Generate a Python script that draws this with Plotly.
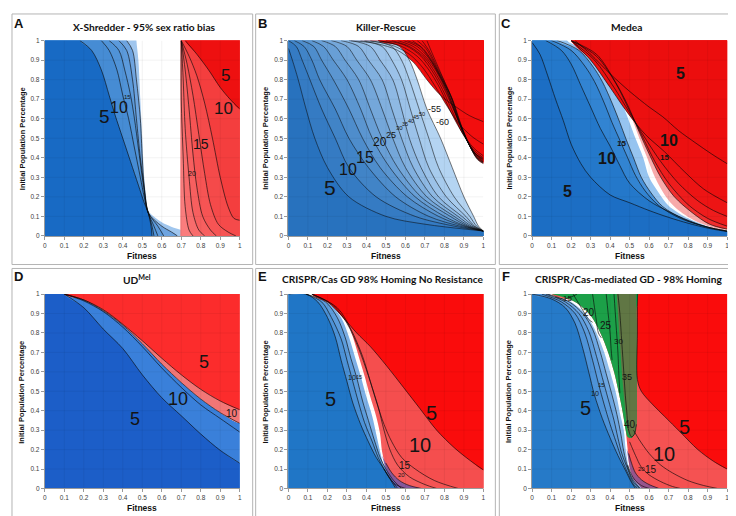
import plotly.graph_objects as go

W, H = 736, 516

# ---------------- contour lines ----------------
# every line is (x list, y list) in (fitness, initial population fraction)

# A - X-Shredder
A_BLUE_EDGE = ([0.47, 0.48, 0.49, 0.50, 0.51, 0.52, 0.53, 0.60, 0.70, 0.80, 0.83],
               [1.0, 0.90, 0.70, 0.50, 0.30, 0.20, 0.13, 0.07, 0.03, 0.01, 0.0])
A_BLUE = [  # outermost -> innermost
    ([0.42, 0.45, 0.47, 0.49, 0.50, 0.51, 0.53, 0.60, 0.65, 0.68], [1.0, 0.95, 0.80, 0.60, 0.40, 0.25, 0.12, 0.05, 0.02, 0.0]),
    ([0.38, 0.42, 0.45, 0.47, 0.49, 0.51, 0.53, 0.58, 0.61], [1.0, 0.95, 0.80, 0.60, 0.40, 0.25, 0.12, 0.05, 0.0]),
    ([0.33, 0.38, 0.41, 0.44, 0.46, 0.48, 0.50, 0.515, 0.53, 0.56, 0.58], [1.0, 0.95, 0.85, 0.72, 0.60, 0.45, 0.30, 0.20, 0.12, 0.05, 0.0]),
    ([0.29, 0.33, 0.37, 0.40, 0.43, 0.46, 0.49, 0.51, 0.53, 0.55, 0.56], [1.0, 0.95, 0.85, 0.72, 0.60, 0.45, 0.30, 0.20, 0.12, 0.05, 0.0]),
    ([0.18, 0.24, 0.29, 0.33, 0.36, 0.40, 0.44, 0.48, 0.51, 0.53, 0.545, 0.55], [1.0, 0.95, 0.85, 0.72, 0.62, 0.50, 0.38, 0.26, 0.17, 0.12, 0.05, 0.0]),
]
A_RED_EDGE = ([0.695, 0.695], [1.0, 0.0])
A_RED = [  # outermost -> innermost
    ([0.70, 0.70, 0.71, 0.72, 0.74, 0.76], [1.0, 0.70, 0.40, 0.15, 0.03, 0.0]),
    ([0.70, 0.71, 0.72, 0.74, 0.76, 0.79, 0.82], [1.0, 0.80, 0.55, 0.30, 0.12, 0.03, 0.0]),
    ([0.70, 0.72, 0.74, 0.76, 0.78, 0.81, 0.85, 0.88], [1.0, 0.85, 0.65, 0.42, 0.25, 0.10, 0.03, 0.0]),
    ([0.70, 0.73, 0.76, 0.79, 0.82, 0.85, 0.89, 0.94, 0.98], [1.0, 0.88, 0.72, 0.52, 0.32, 0.16, 0.06, 0.02, 0.0]),
    ([0.70, 0.74, 0.78, 0.82, 0.86, 0.90, 0.94, 0.97, 1.0], [1.0, 0.92, 0.82, 0.68, 0.50, 0.30, 0.15, 0.09, 0.08]),
    ([0.72, 0.78, 0.84, 0.90, 0.95, 1.0], [1.0, 0.93, 0.85, 0.76, 0.70, 0.65]),
]

# B - Killer-Rescue
B_Y = [1.0, 0.97, 0.9, 0.8, 0.65, 0.5, 0.35, 0.2, 0.1, 0.05, 0.025]
B_BLUE_X = [  # lines 60, 55, ... 10 (outer -> inner)
    [0.46, 0.57, 0.62, 0.66, 0.71, 0.78, 0.84, 0.90, 0.95, 0.975, 1.0],
    [0.42, 0.53, 0.58, 0.62, 0.67, 0.72, 0.77, 0.85, 0.93, 0.965, 1.0],
    [0.37, 0.48, 0.53, 0.58, 0.625, 0.67, 0.72, 0.81, 0.91, 0.955, 1.0],
    [0.32, 0.42, 0.47, 0.535, 0.58, 0.62, 0.68, 0.77, 0.89, 0.95, 1.0],
    [0.27, 0.36, 0.41, 0.48, 0.53, 0.58, 0.64, 0.74, 0.87, 0.94, 1.0],
    [0.22, 0.30, 0.35, 0.42, 0.48, 0.535, 0.60, 0.71, 0.85, 0.93, 1.0],
    [0.17, 0.24, 0.29, 0.36, 0.42, 0.48, 0.56, 0.68, 0.83, 0.92, 1.0],
    [0.12, 0.18, 0.23, 0.30, 0.37, 0.43, 0.52, 0.65, 0.80, 0.91, 1.0],
    [0.07, 0.13, 0.17, 0.23, 0.31, 0.38, 0.47, 0.61, 0.77, 0.90, 1.0],
    [0.03, 0.08, 0.12, 0.16, 0.24, 0.31, 0.41, 0.55, 0.72, 0.88, 1.0],
    [0.0, 0.04, 0.07, 0.11, 0.17, 0.24, 0.31, 0.45, 0.65, 0.85, 1.0],
]
B_BLUE_5 = ([0.0, 0.02, 0.05, 0.09, 0.135, 0.2, 0.31, 0.5, 0.7, 1.0],
            [0.96, 0.9, 0.8, 0.65, 0.5, 0.35, 0.2, 0.1, 0.06, 0.025])
B_RED = [  # lines 60 ... 5 (outer -> inner)
    ([0.71, 0.735, 0.77, 0.805, 0.845, 0.885, 0.935, 0.97, 1.0], [1.0, 0.94, 0.86, 0.78, 0.69, 0.57, 0.45, 0.39, 0.37]),
    ([0.685, 0.72, 0.76, 0.80, 0.84, 0.88, 0.93, 0.97, 1.0], [1.0, 0.95, 0.87, 0.79, 0.70, 0.58, 0.46, 0.395, 0.372]),
    ([0.66, 0.705, 0.75, 0.79, 0.835, 0.875, 0.925, 0.965, 1.0], [1.0, 0.96, 0.88, 0.80, 0.71, 0.59, 0.47, 0.40, 0.375]),
    ([0.635, 0.69, 0.74, 0.785, 0.83, 0.87, 0.92, 0.965, 1.0], [1.0, 0.96, 0.89, 0.81, 0.72, 0.60, 0.48, 0.405, 0.378]),
    ([0.61, 0.675, 0.73, 0.775, 0.82, 0.865, 0.915, 0.96, 1.0], [1.0, 0.97, 0.90, 0.82, 0.73, 0.61, 0.49, 0.415, 0.38]),
    ([0.59, 0.66, 0.72, 0.77, 0.815, 0.86, 0.91, 0.96, 1.0], [1.0, 0.97, 0.91, 0.83, 0.74, 0.62, 0.50, 0.42, 0.385]),
    ([0.56, 0.64, 0.71, 0.76, 0.81, 0.855, 0.905, 0.955, 1.0], [1.0, 0.97, 0.91, 0.84, 0.74, 0.63, 0.51, 0.425, 0.39]),
    ([0.53, 0.62, 0.70, 0.75, 0.80, 0.85, 0.90, 0.95, 1.0], [1.0, 0.97, 0.91, 0.84, 0.75, 0.64, 0.52, 0.43, 0.395]),
    ([0.50, 0.60, 0.68, 0.74, 0.79, 0.84, 0.89, 0.95, 1.0], [1.0, 0.975, 0.92, 0.84, 0.75, 0.64, 0.53, 0.44, 0.40]),
    ([0.46, 0.57, 0.66, 0.72, 0.78, 0.83, 0.89, 0.95, 1.0], [1.0, 0.975, 0.92, 0.85, 0.75, 0.64, 0.53, 0.45, 0.41]),
    ([0.39, 0.52, 0.62, 0.69, 0.75, 0.81, 0.87, 0.94, 1.0], [1.0, 0.98, 0.93, 0.86, 0.77, 0.67, 0.58, 0.51, 0.47]),
    ([0.31, 0.45, 0.56, 0.64, 0.71, 0.78, 0.86, 0.93, 1.0], [1.0, 0.985, 0.95, 0.89, 0.80, 0.72, 0.66, 0.615, 0.585]),
]

# C - Medea
C_BLUE_EDGE = ([0.18, 0.28, 0.35, 0.40, 0.46, 0.50, 0.53, 0.57, 0.60, 0.65, 0.70, 0.80, 0.90, 1.0],
               [1.0, 0.95, 0.87, 0.80, 0.68, 0.58, 0.50, 0.40, 0.30, 0.22, 0.155, 0.09, 0.05, 0.025])
C_BLUE = [
    ([0.13, 0.24, 0.31, 0.36, 0.41, 0.45, 0.48, 0.52, 0.56, 0.61, 0.67, 0.78, 0.90, 1.0],
     [1.0, 0.95, 0.87, 0.79, 0.68, 0.58, 0.50, 0.40, 0.30, 0.22, 0.15, 0.085, 0.045, 0.025]),
    ([0.10, 0.20, 0.27, 0.32, 0.37, 0.41, 0.45, 0.49, 0.53, 0.58, 0.65, 0.76, 0.90, 1.0],
     [1.0, 0.95, 0.87, 0.79, 0.68, 0.58, 0.49, 0.40, 0.31, 0.23, 0.155, 0.09, 0.045, 0.025]),
    ([0.07, 0.15, 0.20, 0.25, 0.30, 0.35, 0.40, 0.45, 0.50, 0.60, 0.70, 0.80, 0.90, 1.0],
     [1.0, 0.95, 0.88, 0.77, 0.66, 0.55, 0.46, 0.36, 0.27, 0.18, 0.125, 0.08, 0.045, 0.025]),
    ([0.0, 0.04, 0.08, 0.12, 0.16, 0.20, 0.25, 0.30, 0.40, 0.50, 0.60, 0.70, 0.80, 0.90, 1.0],
     [0.99, 0.93, 0.82, 0.70, 0.59, 0.47, 0.37, 0.30, 0.21, 0.17, 0.13, 0.095, 0.065, 0.04, 0.022]),
]
C_RED_EDGE = ([0.20, 0.30, 0.37, 0.42, 0.48, 0.52, 0.55, 0.59, 0.63, 0.68, 0.74, 0.83, 0.92, 1.0],
              [1.0, 0.95, 0.87, 0.80, 0.68, 0.58, 0.50, 0.40, 0.30, 0.21, 0.14, 0.08, 0.045, 0.03])
C_RED = [
    ([0.20, 0.33, 0.42, 0.49, 0.55, 0.60, 0.66, 0.73, 0.82, 0.91, 1.0], [1.0, 0.93, 0.80, 0.67, 0.53, 0.42, 0.30, 0.20, 0.12, 0.06, 0.035]),
    ([0.20, 0.33, 0.43, 0.50, 0.57, 0.63, 0.70, 0.80, 0.90, 1.0], [1.0, 0.92, 0.78, 0.64, 0.50, 0.38, 0.27, 0.16, 0.09, 0.05]),
    ([0.20, 0.32, 0.42, 0.50, 0.58, 0.66, 0.75, 0.85, 0.93, 1.0], [1.0, 0.90, 0.76, 0.63, 0.50, 0.38, 0.27, 0.18, 0.13, 0.10]),
    ([0.20, 0.30, 0.40, 0.49, 0.58, 0.68, 0.78, 0.88, 1.0], [1.0, 0.90, 0.76, 0.63, 0.52, 0.43, 0.33, 0.24, 0.17]),
    ([0.22, 0.30, 0.40, 0.50, 0.60, 0.67, 0.75, 0.84, 0.92, 1.0], [1.0, 0.93, 0.83, 0.74, 0.66, 0.61, 0.54, 0.475, 0.42, 0.37]),
]

# D - UDMel
D_X = [0.1, 0.2, 0.3, 0.4, 0.5, 0.6, 0.7, 0.8, 0.9, 1.0]
D_L1 = [1.0, 0.93, 0.82, 0.72, 0.585, 0.467, 0.374, 0.28, 0.196, 0.13]
D_L2 = [1.0, 0.965, 0.91, 0.83, 0.73, 0.62, 0.52, 0.43, 0.36, 0.29]
D_L3 = [1.0, 0.97, 0.915, 0.84, 0.745, 0.64, 0.545, 0.46, 0.39, 0.335]
D_L4 = [1.0, 0.97, 0.92, 0.845, 0.76, 0.67, 0.585, 0.51, 0.45, 0.405]

# E - CRISPR/Cas GD no resistance
E_BLUE_EDGE = ([0.10, 0.20, 0.27, 0.31, 0.34, 0.37, 0.40, 0.43, 0.45, 0.47, 0.49, 0.52, 0.56],
               [1.0, 0.96, 0.88, 0.78, 0.68, 0.58, 0.47, 0.37, 0.28, 0.19, 0.11, 0.05, 0.0])
E_BLUE = [
    ([0.09, 0.19, 0.25, 0.29, 0.32, 0.35, 0.38, 0.41, 0.44, 0.47, 0.50, 0.54, 0.58],
     [1.0, 0.96, 0.88, 0.78, 0.67, 0.57, 0.45, 0.35, 0.25, 0.16, 0.10, 0.04, 0.0]),
    ([0.09, 0.17, 0.22, 0.27, 0.30, 0.33, 0.36, 0.39, 0.43, 0.46, 0.49, 0.53, 0.56],
     [1.0, 0.96, 0.88, 0.77, 0.66, 0.55, 0.44, 0.34, 0.24, 0.16, 0.10, 0.04, 0.0]),
    ([0.0, 0.09, 0.15, 0.20, 0.24, 0.27, 0.30, 0.33, 0.37, 0.41, 0.45, 0.49, 0.52, 0.55],
     [1.0, 1.0, 0.96, 0.88, 0.78, 0.66, 0.55, 0.44, 0.33, 0.24, 0.16, 0.10, 0.05, 0.0]),
]
E_RED_EDGE = ([0.12, 0.22, 0.29, 0.33, 0.36, 0.39, 0.42, 0.45, 0.47, 0.48, 0.50, 0.53, 0.57],
              [1.0, 0.96, 0.88, 0.78, 0.68, 0.58, 0.47, 0.37, 0.28, 0.19, 0.11, 0.05, 0.0])
E_RED = [
    ([0.49, 0.52, 0.55, 0.60], [0.10, 0.05, 0.02, 0.0]),
    ([0.50, 0.53, 0.57, 0.62, 0.68], [0.13, 0.08, 0.04, 0.015, 0.0]),
    ([0.12, 0.25, 0.32, 0.38, 0.42, 0.46, 0.49, 0.52, 0.56, 0.62, 0.70, 0.76],
     [1.0, 0.93, 0.82, 0.68, 0.55, 0.42, 0.30, 0.20, 0.12, 0.06, 0.02, 0.0]),
    ([0.12, 0.22, 0.30, 0.36, 0.41, 0.45, 0.49, 0.53, 0.58, 0.65, 0.75, 0.87],
     [1.0, 0.95, 0.85, 0.72, 0.58, 0.45, 0.33, 0.24, 0.16, 0.10, 0.04, 0.0]),
    ([0.12, 0.20, 0.28, 0.35, 0.42, 0.50, 0.59, 0.675, 0.76, 0.85, 0.93, 1.0],
     [1.0, 0.96, 0.88, 0.80, 0.73, 0.635, 0.52, 0.41, 0.30, 0.21, 0.145, 0.095]),
]
E_TAIL = ([0.48, 0.50, 0.53, 0.57, 0.62, 0.68, 0.56, 0.52, 0.495],
          [0.17, 0.13, 0.08, 0.04, 0.015, 0.0, 0.0, 0.05, 0.11])

# F - CRISPR/Cas-mediated GD 98% homing
F_BLUE_EDGE = ([0.09, 0.20, 0.28, 0.33, 0.37, 0.40, 0.43, 0.45, 0.47, 0.48, 0.495, 0.52, 0.56],
               [1.0, 0.96, 0.89, 0.80, 0.70, 0.60, 0.49, 0.39, 0.30, 0.20, 0.11, 0.04, 0.0])
F_BLUE = [
    ([0.08, 0.19, 0.26, 0.31, 0.35, 0.38, 0.41, 0.435, 0.455, 0.47, 0.49, 0.52, 0.555],
     [1.0, 0.96, 0.90, 0.82, 0.70, 0.59, 0.48, 0.38, 0.28, 0.19, 0.11, 0.04, 0.0]),
    ([0.07, 0.17, 0.24, 0.29, 0.33, 0.36, 0.39, 0.42, 0.44, 0.46, 0.49, 0.52, 0.55],
     [1.0, 0.96, 0.90, 0.81, 0.68, 0.57, 0.46, 0.35, 0.26, 0.18, 0.10, 0.03, 0.0]),
    ([0.05, 0.15, 0.22, 0.27, 0.31, 0.34, 0.37, 0.40, 0.43, 0.46, 0.49, 0.52, 0.54],
     [1.0, 0.96, 0.90, 0.80, 0.66, 0.54, 0.43, 0.33, 0.24, 0.15, 0.08, 0.02, 0.0]),
    ([0.0, 0.10, 0.17, 0.22, 0.26, 0.29, 0.32, 0.36, 0.40, 0.44, 0.48, 0.51, 0.53],
     [1.0, 0.975, 0.93, 0.85, 0.72, 0.60, 0.48, 0.36, 0.26, 0.17, 0.09, 0.03, 0.0]),
]
F_GREEN = ([0.10, 0.22, 0.30, 0.35, 0.39, 0.42, 0.445, 0.465, 0.48, 0.49, 0.51, 0.525, 0.535, 0.537, 0.537, 0.535, 0.53, 0.10],
           [1.0, 0.96, 0.89, 0.80, 0.70, 0.60, 0.49, 0.39, 0.30, 0.265, 0.26, 0.28, 0.33, 0.50, 0.70, 0.90, 1.06, 1.06])
F_OLIVE = ([0.43, 0.44, 0.45, 0.46, 0.47, 0.478, 0.485, 0.495, 0.51, 0.525, 0.535, 0.537, 0.537, 0.535, 0.53],
           [1.06, 0.90, 0.75, 0.60, 0.48, 0.40, 0.33, 0.28, 0.265, 0.28, 0.33, 0.50, 0.70, 0.90, 1.06])
F_GREEN_LINES = [
    ([0.12, 0.16, 0.20, 0.23], [0.985, 0.975, 0.985, 1.0]),
    ([0.21, 0.24, 0.27, 0.29, 0.31], [1.0, 0.95, 0.90, 0.87, 0.855]),
    ([0.31, 0.32, 0.33, 0.34, 0.355], [1.0, 0.93, 0.86, 0.80, 0.775]),
    ([0.38, 0.39, 0.40, 0.405, 0.41], [1.0, 0.90, 0.80, 0.72, 0.66]),
    ([0.42, 0.43, 0.44, 0.445, 0.45], [1.0, 0.85, 0.70, 0.58, 0.49]),
    ([0.44, 0.45, 0.46, 0.47, 0.478, 0.485, 0.495, 0.51, 0.525, 0.535], [1.0, 0.90, 0.75, 0.60, 0.48, 0.40, 0.30, 0.265, 0.28, 0.33]),
]
F_RED_EDGE = ([0.10, 0.22, 0.30, 0.35, 0.39, 0.42, 0.445, 0.465, 0.48, 0.49, 0.50, 0.52, 0.56],
              [1.0, 0.96, 0.89, 0.80, 0.70, 0.60, 0.49, 0.39, 0.30, 0.20, 0.11, 0.05, 0.0])
F_RED = [
    ([0.49, 0.51, 0.53, 0.56, 0.60], [0.12, 0.07, 0.04, 0.015, 0.0]),
    ([0.495, 0.51, 0.53, 0.56, 0.60, 0.65], [0.18, 0.13, 0.08, 0.045, 0.02, 0.0]),
    ([0.50, 0.53, 0.56, 0.60, 0.66, 0.72, 0.76], [0.24, 0.17, 0.11, 0.07, 0.035, 0.01, 0.0]),
    ([0.52, 0.55, 0.60, 0.66, 0.72, 0.80, 0.88, 0.95], [0.30, 0.25, 0.18, 0.12, 0.08, 0.04, 0.015, 0.0]),
]
F_RED_5 = ([0.54, 0.54, 0.54, 0.56, 0.62, 0.68, 0.76, 0.85, 0.93, 1.0],
           [1.0, 0.80, 0.56, 0.50, 0.43, 0.37, 0.29, 0.20, 0.14, 0.10])
F_TAIL = ([0.485, 0.495, 0.51, 0.53, 0.56, 0.60, 0.65, 0.56, 0.52, 0.50],
          [0.20, 0.18, 0.13, 0.08, 0.045, 0.02, 0.0, 0.0, 0.04, 0.11])

# ---------------- layout geometry (pixels of the 736x516 page) ----------------
COLS = [(35, 231), (280, 476), (525, 721)]
ROWS = [(29, 227), (286, 483)]

fig = go.Figure()


def ax(i):
    return ('x' if i == 1 else f'x{i}'), ('y' if i == 1 else f'y{i}')


def on_edge(x, y):
    return x <= 0.001 or x >= 0.999 or y <= 0.001 or y >= 0.999


def out(x, y, d=0.06):
    if y >= 0.999:
        return x, 1 + d
    if y <= 0.001:
        return x, -d
    if x >= 0.999:
        return 1 + d, y
    return -d, y


def below_left(xs, ys):
    sx, sy = out(xs[0], ys[0])
    ex, ey = out(xs[-1], ys[-1])
    px = [sx] + list(xs) + [ex]
    py = [sy] + list(ys) + [ey]
    if ys[-1] > 0.001:
        px.append(1.3); py.append(-0.3)
    px.append(-0.3); py.append(-0.3)
    if ys[0] >= 0.999:
        px.append(-0.3); py.append(1.3)
    return px, py


def above_right(xs, ys):
    sx, sy = out(xs[0], ys[0])
    ex, ey = out(xs[-1], ys[-1])
    px = [sx] + list(xs) + [ex]
    py = [sy] + list(ys) + [ey]
    if ys[-1] <= 0.001:
        px.append(1.3); py.append(-0.3)
    px.append(1.3); py.append(1.3)
    if ys[0] < 0.999:
        px.append(-0.3); py.append(1.3)
    return px, py


def add_fill(i, poly, color, shape='spline'):
    xa, ya = ax(i)
    fig.add_trace(go.Scatter(x=poly[0], y=poly[1], mode='lines', fill='toself', fillcolor=color,
                             line=dict(width=0, shape=shape, smoothing=0.9), xaxis=xa, yaxis=ya,
                             hoverinfo='skip'))


def add_region(i, curve, color, side):
    # only curves running edge to edge split the square into two parts
    xs, ys = curve
    if not (on_edge(xs[0], ys[0]) and on_edge(xs[-1], ys[-1])):
        return
    add_fill(i, below_left(xs, ys) if side == 'bl' else above_right(xs, ys), color)


def add_line(i, xs, ys, width=0.7, color='rgba(10,10,10,0.9)'):
    xa, ya = ax(i)
    fig.add_trace(go.Scatter(x=xs, y=ys, mode='lines', line=dict(width=width, color=color, shape='spline', smoothing=0.9),
                             xaxis=xa, yaxis=ya, hoverinfo='skip'))


def mix(c1, c2, t):
    return 'rgb(%d,%d,%d)' % tuple(round(a + (b - a) * t) for a, b in zip(c1, c2))


# ---- A ----
add_region(1, A_BLUE_EDGE, 'rgb(160,198,238)', 'bl')
for cv, c in zip(A_BLUE, ['rgb(110,164,224)', 'rgb(92,154,219)', 'rgb(80,147,215)', 'rgb(70,140,212)', 'rgb(24,106,196)']):
    add_region(1, cv, c, 'bl')
add_fill(1, above_right(*A_RED_EDGE), 'rgb(250,125,125)', shape='linear')
for cv, c in zip(A_RED, ['rgb(248,108,108)', 'rgb(247,95,95)', 'rgb(246,84,84)', 'rgb(245,74,74)', 'rgb(244,62,62)', 'rgb(238,16,16)']):
    add_region(1, cv, c, 'tr')
for xs, ys in A_BLUE + A_RED:
    add_line(1, xs, ys)

# ---- B ----
for k, cv in enumerate(B_RED):
    add_region(2, cv, mix((250, 135, 135), (242, 14, 14), min(1, k / 3)), 'tr')
b_lines = [(xs, B_Y) for xs in B_BLUE_X] + [B_BLUE_5]
for k, cv in enumerate(b_lines):
    add_region(2, cv, mix((180, 212, 242), (40, 114, 190), k / (len(b_lines) - 1)), 'bl')
for xs, ys in b_lines + B_RED:
    add_line(2, xs, ys, width=0.6)

# ---- C ----
add_region(3, C_BLUE_EDGE, 'rgb(150,196,240)', 'bl')
for cv, c in zip(C_BLUE, ['rgb(72,146,218)', 'rgb(50,132,210)', 'rgb(36,120,202)', 'rgb(28,110,196)']):
    add_region(3, cv, c, 'bl')
add_region(3, C_RED_EDGE, 'rgb(248,170,170)', 'tr')
for cv, c in zip(C_RED, ['rgb(240,45,45)', 'rgb(238,28,28)', 'rgb(237,20,20)', 'rgb(236,16,16)', 'rgb(236,14,14)']):
    add_region(3, cv, c, 'tr')
for xs, ys in C_BLUE + C_RED:
    add_line(3, xs, ys)

# ---- D ----
add_region(4, (D_X, D_L3), 'rgb(58,128,218)', 'bl')
add_region(4, (D_X, D_L1), 'rgb(28,94,200)', 'bl')
add_region(4, (D_X, D_L3), 'rgb(242,118,118)', 'tr')
add_region(4, (D_X, D_L4), 'rgb(252,44,44)', 'tr')
for ys in (D_L1, D_L2, D_L3, D_L4):
    add_line(4, D_X, ys)

# ---- E ----
add_region(5, E_BLUE_EDGE, 'rgb(125,176,230)', 'bl')
for cv, c in zip(E_BLUE, ['rgb(92,156,220)', 'rgb(76,146,215)', 'rgb(32,118,198)']):
    add_region(5, cv, c, 'bl')
add_region(5, E_RED_EDGE, 'rgb(246,92,92)', 'tr')
for cv, c in zip(E_RED, ['rgb(205,80,120)', 'rgb(240,82,82)', 'rgb(245,84,84)', 'rgb(245,78,78)', 'rgb(250,12,12)']):
    add_region(5, cv, c, 'tr')
add_fill(5, E_TAIL, 'rgba(95,85,175,0.75)')
for xs, ys in E_BLUE + E_RED:
    add_line(5, xs, ys)

# ---- F ----
add_region(6, F_RED_EDGE, 'rgb(245,82,82)', 'tr')
for cv, c in zip(F_RED, ['rgb(200,80,120)', 'rgb(240,80,80)', 'rgb(244,82,82)', 'rgb(245,80,80)']):
    add_region(6, cv, c, 'tr')
add_region(6, F_RED_5, 'rgb(250,12,12)', 'tr')
add_fill(6, F_GREEN, 'rgb(28,160,72)')
add_fill(6, F_OLIVE, 'rgb(96,118,68)')
add_fill(6, F_TAIL, 'rgba(110,85,165,0.7)')
add_region(6, F_BLUE_EDGE, 'rgb(145,190,236)', 'bl')
for cv, c in zip(F_BLUE, ['rgb(108,166,226)', 'rgb(92,156,221)', 'rgb(78,147,216)', 'rgb(38,122,200)']):
    add_region(6, cv, c, 'bl')
for xs, ys in F_BLUE + F_RED + F_GREEN_LINES + [F_RED_5]:
    add_line(6, xs, ys)

# ---------------- axes ----------------
layout = dict(width=W, height=H, margin=dict(l=0, r=0, t=0, b=0), paper_bgcolor='white',
              plot_bgcolor='white', showlegend=False)
tickfont = dict(size=6.5, color='#404040', family='Liberation Sans')
for i in range(1, 7):
    r, c = divmod(i - 1, 3)
    x0, x1 = COLS[c]
    top, bot = ROWS[r]
    common = dict(range=[0, 1], dtick=0.1, tick0=0, showgrid=False, zeroline=False, showline=True,
                  linecolor='#9a9a9a', linewidth=1, ticks='outside', ticklen=3, tickcolor='#9a9a9a',
                  tickfont=tickfont, fixedrange=True)
    xk = 'xaxis' if i == 1 else f'xaxis{i}'
    yk = 'yaxis' if i == 1 else f'yaxis{i}'
    layout[xk] = dict(domain=[x0 / W, x1 / W], anchor=ax(i)[1], **common)
    layout[yk] = dict(domain=[1 - bot / H, 1 - top / H], anchor=ax(i)[0], **common)
fig.update_layout(**layout)

# faint grid lying over the colour fields
shapes = []
for i in range(1, 7):
    xa, ya = ax(i)
    for v in [k / 10 for k in range(1, 10)]:
        shapes.append(dict(type='line', xref=xa, yref=ya, x0=v, x1=v, y0=0, y1=1, layer='above',
                           line=dict(color='rgba(0,0,0,0.05)', width=1)))
        shapes.append(dict(type='line', xref=xa, yref=ya, x0=0, x1=1, y0=v, y1=v, layer='above',
                           line=dict(color='rgba(0,0,0,0.05)', width=1)))
# panel frames
for (l, r_) in [(2, 244), (247, 488), (492, 734)]:
    for (t, b) in [(2, 256), (260, 514)]:
        shapes.append(dict(type='rect', xref='paper', yref='paper', x0=l / W, x1=r_ / W,
                           y0=1 - b / H, y1=1 - t / H, line=dict(color='#b4b4b4', width=1)))
fig.update_layout(shapes=shapes)

# ---------------- text ----------------
ann = []


def paper_text(x, y, text, size, bold=True, family='Liberation Sans', angle=0):
    ann.append(dict(xref='paper', yref='paper', x=x / W, y=1 - y / H, text=f'<b>{text}</b>' if bold else text,
                    showarrow=False, xanchor='center', yanchor='middle', textangle=angle,
                    font=dict(size=size, family=family, color='#111')))


def data_text(i, x, y, text, size, bold=False):
    xa, ya = ax(i)
    ann.append(dict(xref=xa, yref=ya, x=x, y=y, text=f'<b>{text}</b>' if bold else text, showarrow=False,
                    xanchor='center', yanchor='middle', font=dict(size=size, family='Liberation Sans', color='#141414')))


titles = ['X-Shredder - 95% sex ratio bias', 'Killer-Rescue', 'Medea', 'UD<sup>Mel</sup>',
          'CRISPR/Cas GD 98% Homing No Resistance', 'CRISPR/Cas-mediated GD - 98% Homing']
title_x = [135, 378, 620, 128, 375, 622]
letters = ['A', 'B', 'C', 'D', 'E', 'F']
for i in range(6):
    r, c = divmod(i, 3)
    paper_text(title_x[i], [15, 271][r], titles[i], 10.2, family='Lato')
    paper_text(9 + c * 245, [12, 268][r], letters[i], 13)
    x0, x1 = COLS[c]
    paper_text((x0 + x1) / 2, [247, 503][r], 'Fitness', 8.5)
    paper_text(12 + c * 245, [128, 385][r], 'Initial Population Percentage', 7.5, angle=-90)

# A labels
for x, y, t, s in [(0.306, 0.61, '5', 19), (0.383, 0.66, '10', 16), (0.425, 0.71, '15', 6),
                   (0.927, 0.82, '5', 17), (0.918, 0.65, '10', 17), (0.80, 0.47, '15', 14), (0.753, 0.32, '20', 7)]:
    data_text(1, x, y, t, s)
# B labels
for x, y, t, s in [(0.213, 0.25, '5', 21), (0.306, 0.34, '10', 16), (0.393, 0.40, '15', 16), (0.472, 0.48, '20', 12),
                   (0.525, 0.515, '25', 9), (0.568, 0.555, '30', 6), (0.597, 0.572, '35', 5.5), (0.626, 0.59, '40', 5.5),
                   (0.655, 0.608, '45', 5.5), (0.684, 0.626, '50', 5.5), (0.75, 0.65, '-55', 9), (0.79, 0.585, '-60', 9),
                   (0.306, 1.025, '5', 9), (0.395, 1.025, '10', 9), (0.462, 1.025, '15', 9), (0.497, 1.02, '20', 5.5),
                   (0.526, 1.02, '25', 5.5), (0.565, 1.02, '30', 5.5), (0.594, 1.02, '35', 5.5), (0.623, 1.02, '40', 5.5),
                   (0.652, 1.02, '45', 5.5), (0.687, 1.02, '55', 6), (0.722, 1.02, '60', 6),
                   (1.03, 0.61, '5', 9), (1.035, 0.51, '10', 9), (1.035, 0.45, '15', 9)]:
    data_text(2, x, y, t, s)
# C labels
for x, y, t, s in [(0.179, 0.226, '5', 16), (0.383, 0.394, '10', 16), (0.459, 0.475, '15', 8),
                   (0.762, 0.833, '5', 16), (0.702, 0.486, '10', 16), (0.68, 0.40, '15', 8)]:
    data_text(3, x, y, t, s, bold=True)
# D labels
for x, y, t, s in [(0.462, 0.357, '5', 18), (0.684, 0.459, '10', 18), (0.815, 0.653, '5', 18), (0.962, 0.387, '10', 10)]:
    data_text(4, x, y, t, s)
# E labels
for x, y, t, s in [(0.217, 0.46, '5', 20), (0.325, 0.572, '10', 7), (0.36, 0.572, '15', 5.5), (0.735, 0.39, '5', 20),
                   (0.675, 0.222, '10', 20), (0.598, 0.12, '15', 10), (0.58, 0.07, '20', 6)]:
    data_text(5, x, y, t, s)
# F labels
for x, y, t, s in [(0.274, 0.416, '5', 20), (0.325, 0.49, '10', 7), (0.355, 0.53, '15', 6), (0.18, 0.98, '15', 8),
                   (0.29, 0.907, '20', 10), (0.38, 0.836, '25', 10), (0.444, 0.758, '30', 8), (0.487, 0.572, '35', 9),
                   (0.50, 0.33, '40', 10), (0.783, 0.315, '5', 20), (0.675, 0.176, '10', 20), (0.61, 0.095, '15', 10),
                   (0.56, 0.098, '20', 6)]:
    data_text(6, x, y, t, s)

fig.update_layout(annotations=ann)
fig.write_html('out.html')
